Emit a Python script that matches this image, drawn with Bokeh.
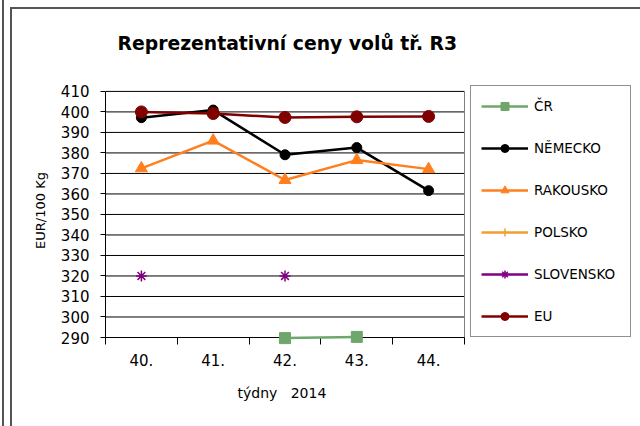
from bokeh.plotting import figure
from bokeh.models import Range1d, FixedTicker, Legend, LegendItem, InlineStyleSheet, Title
from bokeh.embed import file_html
from bokeh.resources import INLINE

nan = float("nan")

# ---- data ----
weeks = ["40.", "41.", "42.", "43.", "44."]
cr = [nan, nan, 289.7, 290.3, nan]
nemecko = [397.2, 400.9, 379.1, 382.6, 361.6]
rakousko = [372.5, 386.0, 366.8, 376.5, 372.1]
polsko = [nan, nan, nan, nan, nan]
slovensko = [320.0, nan, 320.0, nan, nan]
eu = [400.0, 399.2, 397.3, 397.6, 397.8]
y_ticks = [290, 300, 310, 320, 330, 340, 350, 360, 370, 380, 390, 400, 410]
series_names = ["ČR", "NĚMECKO", "RAKOUSKO", "POLSKO", "SLOVENSKO", "EU"]

title_text = "Reprezentativní ceny volů tř. R3"
y_label = "EUR/100 Kg"
x_label = "týdny\u00a0\u00a0\u00a02014"

series_values = [cr, nemecko, rakousko, polsko, slovensko, eu]
styles = [
    dict(color="#6fa66b", marker="square", size=11),
    dict(color="#000000", marker="circle", size=10),
    dict(color="#ff7f1e", marker="triangle", size=12),
    dict(color="#f0a030", marker="cross", size=10),
    dict(color="#800080", marker="asterisk", size=11),
    dict(color="#800000", marker="circle", size=12),
]

# ---- layout (pixels) ----
W, H = 632, 418
LEFT = 105          # plot area left edge
PLOT_RIGHT = 464    # plot area right edge
PLOT_TOP = 88       # y of top gridline
BOTTOM = 337        # plot area bottom edge (x axis)
FRAME_TOP = 80      # frame extends a bit upward so the legend fits inside it

n = len(weeks)
xs = [i + 0.5 for i in range(n)]
bounds = list(range(n + 1))
x_end = n * (W - LEFT) / (PLOT_RIGHT - LEFT)
y_span = y_ticks[-1] - y_ticks[0]
px_per_unit = (BOTTOM - PLOT_TOP) / y_span
y_end = y_ticks[-1] + (PLOT_TOP - FRAME_TOP) / px_per_unit

FONT = "DejaVu Sans"

p = figure(width=W, height=H,
           x_range=Range1d(0, x_end),
           y_range=Range1d(y_ticks[0], y_end),
           output_backend="svg", toolbar_location=None,
           min_border_left=LEFT, min_border_right=0,
           min_border_top=FRAME_TOP, min_border_bottom=H - BOTTOM)

p.background_fill_color = "white"
p.border_fill_color = "white"
p.outline_line_color = None

# outer chart border drawn with CSS (decoration only)
p.stylesheets = [InlineStyleSheet(css="""
:host::after { content: ''; position: absolute; left: 10px; top: 7px; right: -20px; bottom: -20px;
  border-left: 2px solid #555; border-top: 2px solid #555; pointer-events: none; z-index: 100; }
:host::before { content: ''; position: absolute; left: 2px; top: 0; bottom: -20px; width: 0;
  border-left: 2px solid #555; pointer-events: none; z-index: 100; }
""")]

# title
p.title.text = title_text
p.title.align = "left"
p.title.text_font = FONT
p.title.text_font_size = "18.8px"
p.title.text_font_style = "bold"
p.title.text_color = "black"
p.title.standoff = 60
p.title.offset = 12

# grids: drawn as segments limited to the plot area
p.xgrid.visible = False
p.ygrid.visible = False
p.segment(x0=[bounds[0]] * len(y_ticks), x1=[bounds[-1]] * len(y_ticks),
          y0=y_ticks, y1=y_ticks, line_color="black", line_width=1)
p.segment(x0=[bounds[-1]], x1=[bounds[-1]], y0=[y_ticks[0]], y1=[y_ticks[-1]],
          line_color="#808080", line_width=1)

# y axis
ya = p.yaxis[0]
ya.bounds = (y_ticks[0], y_ticks[-1])
ya.ticker = FixedTicker(ticks=y_ticks)
ya.axis_line_color = "black"
ya.major_tick_line_color = "black"
ya.major_tick_out = 5
ya.major_tick_in = 0
ya.minor_tick_line_color = None
ya.major_label_text_font = FONT
ya.major_label_text_font_size = "15px"
ya.major_label_text_color = "black"
ya.major_label_standoff = 11
ya.axis_label = y_label
ya.axis_label_text_font = FONT
ya.axis_label_text_font_size = "13px"
ya.axis_label_text_font_style = "normal"
ya.axis_label_text_color = "black"
ya.axis_label_standoff = 10

# x axis
xa = p.xaxis[0]
xa.bounds = (bounds[0], bounds[-1])
xa.ticker = FixedTicker(ticks=xs, minor_ticks=bounds)
xa.major_label_overrides = {x: w for x, w in zip(xs, weeks)}
xa.axis_line_color = "black"
xa.major_tick_line_color = None
xa.major_tick_out = 0
xa.major_tick_in = 0
xa.minor_tick_line_color = "black"
xa.minor_tick_out = 7
xa.minor_tick_in = 0
xa.major_label_text_font = FONT
xa.major_label_text_font_size = "15px"
xa.major_label_text_color = "black"
xa.major_label_standoff = 9

# x axis caption, centred under the plot area (not the wider frame)
xlab = Title(text=x_label, align="left", offset=132, standoff=28,
             text_font=FONT, text_font_size="14px", text_font_style="normal",
             text_color="black")
p.add_layout(xlab, "below")

items = []
for name, vals, st in zip(series_names, series_values, styles):
    lr = p.line(xs, vals, line_color=st["color"], line_width=2.5, level="overlay")
    if st["marker"] in ("asterisk", "cross"):
        sr = p.scatter(xs, vals, marker=st["marker"], size=st["size"],
                       line_color=st["color"], line_width=1.5, level="overlay")
    else:
        sr = p.scatter(xs, vals, marker=st["marker"], size=st["size"],
                       fill_color=st["color"], line_color=st["color"], level="overlay")
    items.append(LegendItem(label=name, renderers=[lr, sr]))

legend = Legend(items=items, location=(PLOT_RIGHT + 6 - LEFT, 0), orientation="vertical",
                padding=10, spacing=22, glyph_width=47, glyph_height=20,
                label_standoff=6, label_width=86, margin=0,
                label_text_font=FONT, label_text_font_size="13.5px",
                label_text_color="black",
                border_line_color="#222222", border_line_width=1.5,
                background_fill_color="white", background_fill_alpha=1)
p.add_layout(legend, "center")

open("out.html", "w").write(file_html(p, INLINE))
